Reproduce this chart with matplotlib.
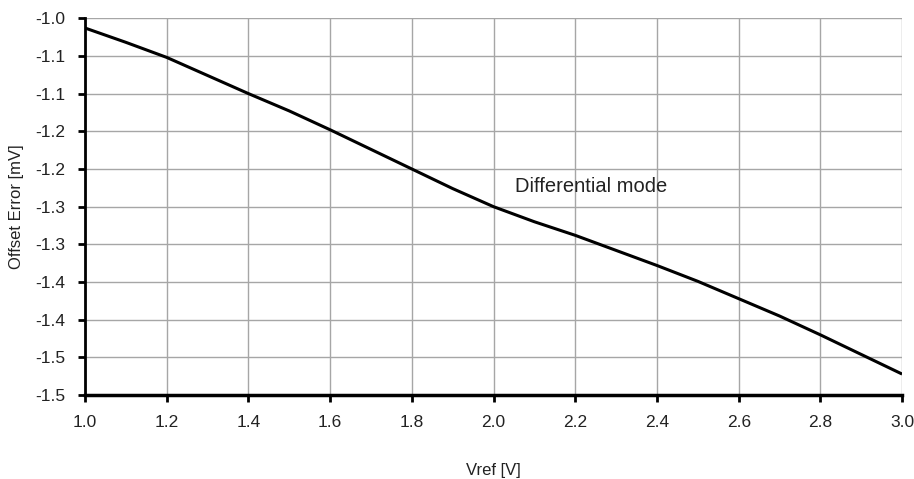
import matplotlib
matplotlib.use("Agg")
import matplotlib.pyplot as plt
import numpy as np

plt.rcParams['font.family'] = ['Liberation Sans', 'DejaVu Sans']

vref = [1.0, 1.1, 1.2, 1.3, 1.4, 1.5, 1.6, 1.7, 1.8, 1.9, 2.0,
        2.1, 2.2, 2.3, 2.4, 2.5, 2.6, 2.7, 2.8, 2.9, 3.0]
offset_error = [-1.013, -1.032, -1.052, -1.076, -1.100, -1.123, -1.148, -1.174,
                -1.200, -1.226, -1.250, -1.270, -1.288, -1.308, -1.328, -1.349,
                -1.372, -1.395, -1.420, -1.446, -1.472]
x_ticks = [1.0, 1.2, 1.4, 1.6, 1.8, 2.0, 2.2, 2.4, 2.6, 2.8, 3.0]
y_ticks = [-1.50, -1.45, -1.40, -1.35, -1.30, -1.25, -1.20, -1.15, -1.10, -1.05, -1.00]
y_tick_labels = ['-1.5', '-1.5', '-1.4', '-1.4', '-1.3', '-1.3', '-1.2', '-1.2', '-1.1', '-1.1', '-1.0']

fig = plt.figure(figsize=(9.14, 4.79), dpi=100)
ax = fig.add_axes([0.093, 0.175, 0.894, 0.787])

ax.plot(vref, offset_error, color='black', lw=2.2, solid_capstyle='butt', zorder=3)

ax.set_xlim(1.0, 3.0)
ax.set_ylim(-1.5, -1.0)
ax.set_xticks(x_ticks)
ax.set_xticklabels([f'{v:.1f}' for v in x_ticks])
ax.set_yticks(y_ticks)
ax.set_yticklabels(y_tick_labels)

ax.grid(True, color='#a6a6a6', lw=1.0, zorder=1)
ax.set_axisbelow(True)
for s in ['top', 'right']:
    ax.spines[s].set_visible(False)
ax.spines['left'].set_linewidth(2.0)
ax.spines['bottom'].set_linewidth(2.5)
ax.spines['left'].set_zorder(4)
ax.spines['bottom'].set_zorder(4)
ax.tick_params(axis='both', direction='out', length=5, width=2.0, labelsize=12.5,
               color='black', labelcolor='#222222')
ax.tick_params(axis='x', pad=9)
ax.tick_params(axis='y', pad=9)

ax.set_xlabel('Vref [V]', fontsize=12, labelpad=24, color='#222222')
ax.set_ylabel('Offset Error [mV]', fontsize=12, labelpad=8, color='#222222')

ax.text(2.053, -1.223, 'Differential mode', fontsize=14.5, color='#222222',
        ha='left', va='center')

fig.savefig('out.png', dpi=100)
